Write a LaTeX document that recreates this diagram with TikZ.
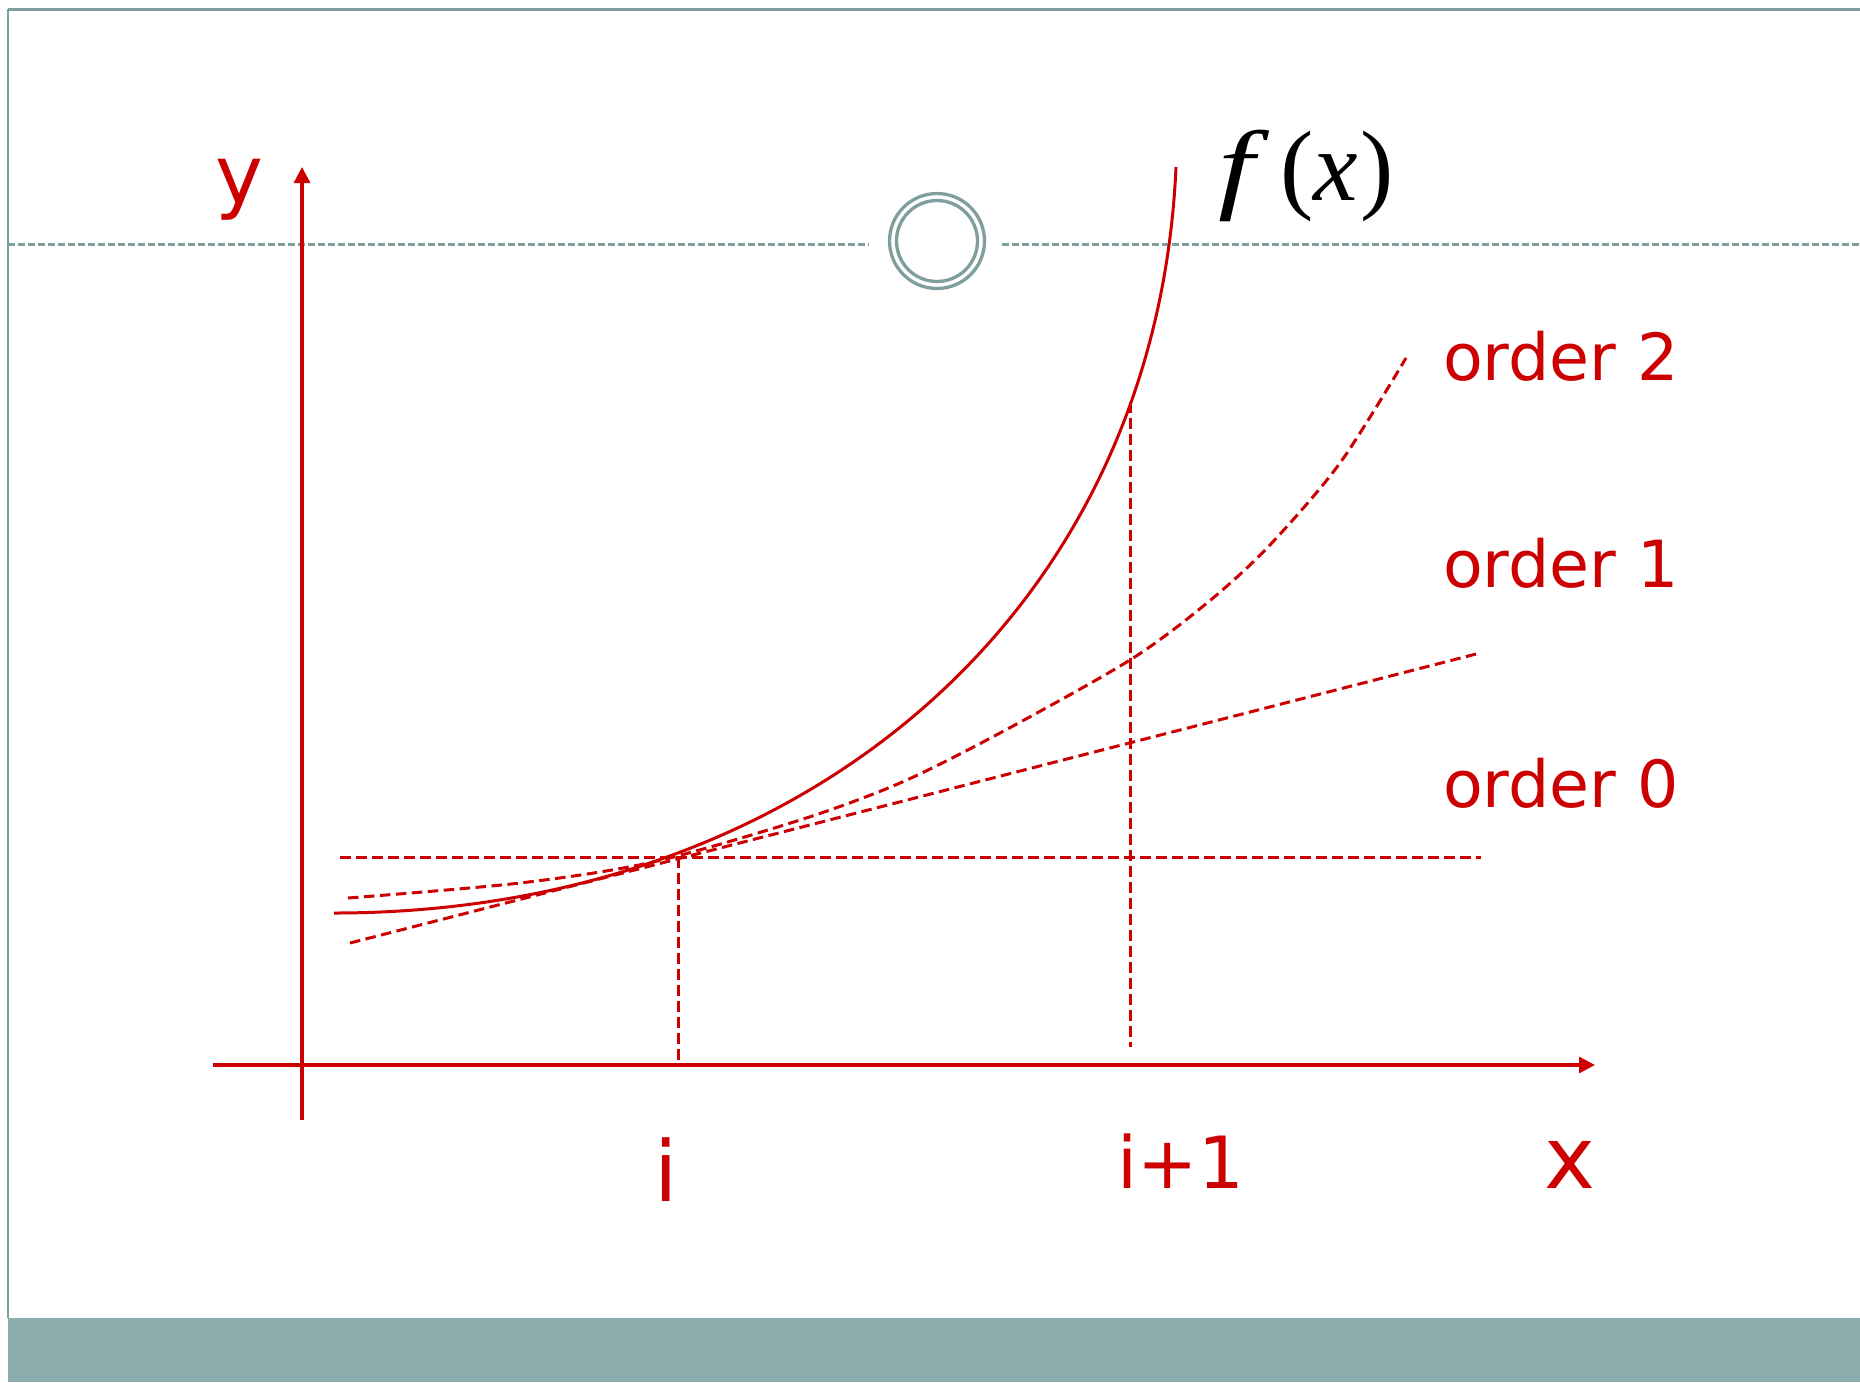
\documentclass[tikz,border=0pt]{standalone}
\usepackage{fontspec}
\setmainfont{DejaVu Sans}
\newfontfamily\timesfont{Liberation Serif}
\usetikzlibrary{arrows.meta}
\definecolor{axred}{HTML}{CC0000}
\definecolor{framegray}{HTML}{7F9E9E}
\definecolor{bandgray}{HTML}{8BADAD}
\tikzset{
  redline/.style={draw=axred, line width=3pt},
  axisline/.style={draw=axred, line width=3.2pt},
  reddash/.style={draw=axred, line width=3pt, dash pattern=on 10.5pt off 5.5pt},
  grayline/.style={draw=framegray, line width=3pt},
  graydash/.style={draw=framegray, line width=3pt, dash pattern=on 7pt off 3pt},
  axarrow/.style={-{Triangle[length=16pt,width=16pt]}},
  lbl/.style={text=axred, inner sep=0pt, anchor=base},
  ordlbl/.style={text=axred, inner sep=0pt, anchor=base west, font=\fontsize{65}{72}\selectfont},
  fxchar/.style={inner sep=0pt, anchor=base west, font=\timesfont\fontsize{100}{110}\selectfont},
}
\begin{document}
\begin{tikzpicture}[x=1pt,y=-1pt]
\useasboundingbox (0,0) rectangle (1860,1382);
% frame
\fill[bandgray] (8,1318) rectangle (1860,1382);
\draw[grayline] (8,9) -- (1860,9);
\draw[draw=framegray, line width=2pt] (8,9) -- (8,1318);
\coordinate (gl0) at (8,244);
\coordinate (gl1) at (869,244);
\coordinate (gr0) at (1002,244);
\coordinate (gr1) at (1860,244);
\draw[graydash] (gl0) -- (gl1);
\draw[graydash] (gr0) -- (gr1);
\node[draw=framegray, line width=3.3pt, circle, minimum size=95pt, inner sep=0pt] (oc) at (937,241) {};
\node[draw=framegray, line width=3.3pt, circle, minimum size=81pt, inner sep=0pt] (ic) at (937,241) {};
% axes
\coordinate (yb) at (302,1120);
\coordinate (yt) at (302,167);
\coordinate (xl) at (213,1065);
\coordinate (xr) at (1595,1065);
\draw[axisline, axarrow] (yb) -- (yt);
\draw[axisline, axarrow] (xl) -- (xr);
% reference lines
\coordinate (Pi) at (678,857);
\coordinate (Pib) at (678,1065);
\coordinate (Qt) at (1130,402);
\coordinate (Qb) at (1130,1047);
\coordinate (o0a) at (340,857);
\coordinate (o0b) at (1481,857);
\coordinate (o1a) at (350,943);
\coordinate (o1b) at (1480,653);
\draw[reddash] (Pi) -- (Pib);
\draw[reddash] (Qt) -- (Qb);
\draw[reddash] (o0a) -- (o0b);
\draw[reddash] (o1a) -- (o1b);
% order 2
\draw[reddash] plot[smooth] coordinates {(348,898) (520,883) (653,862) (800,820) (900,783) (1000,733) (1130,660) (1207,603) (1268,547) (1340,463) (1406,358)};
% f(x)
\coordinate (fa) at (334,913);
\coordinate (fb) at (1176,167);
\draw[redline] (fa) .. controls (800,913) and (1156,617) .. (fb);
% labels
\node[lbl, font=\fontsize{81}{90}\selectfont] (ylab) at (239,203) {y};
\node[lbl, font=\fontsize{86}{95}\selectfont] (xlab) at (1570,1188) {x};
\node[lbl, font=\fontsize{84}{95}\selectfont] (ilab) at (666,1201) {i};
\node[lbl, font=\fontsize{72}{85}\selectfont] (i1lab) at (1181,1188) {i+1};
\node[ordlbl] (o2) at (1443,380) {order 2};
\node[ordlbl] (o1) at (1443,587) {order 1};
\node[ordlbl] (o0) at (1443,807) {order 0};
\node[fxchar, xscale=1.3] (ff) at (1218,200) {\textit{f}};
\node[fxchar] (fl) at (1280,200) {(};
\node[fxchar] (fv) at (1313,200) {\textit{x}};
\node[fxchar] (fr) at (1360,200) {)};
\end{tikzpicture}
\end{document}
